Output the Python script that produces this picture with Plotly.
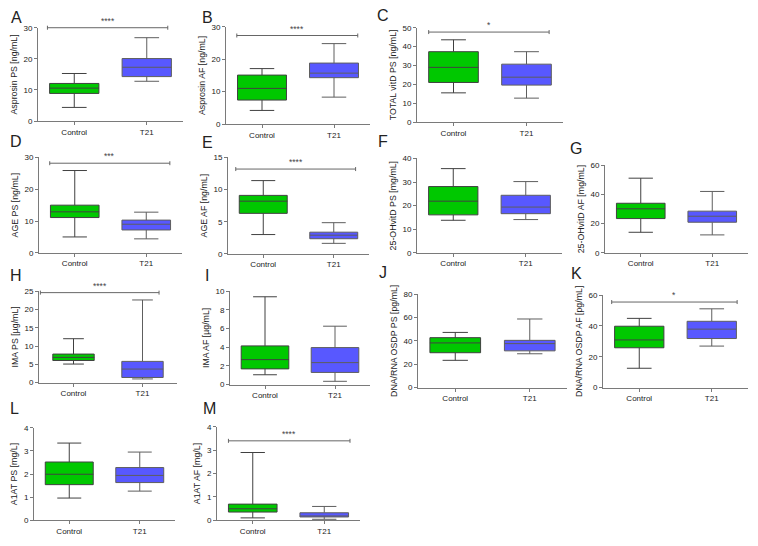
import plotly.graph_objects as go

# ---------------- data ----------------
groups = ["Control", "T21"]
panel_ids = ["A", "B", "C", "D", "E", "F", "G", "H", "I", "J", "K", "L", "M"]
y_titles = ["Asprosin PS [ng/mL]", "Asprosin AF [ng/mL]", "TOTAL vitD PS [ng/mL]",
            "AGE PS [ng/mL]", "AGE AF [ng/mL]", "25-OHvitD PS [mg/mL]", "25-OHvitD AF [mg/mL]",
            "IMA PS [µg/mL]", "IMA AF [µg/mL]", "DNA/RNA OSDP PS [pg/mL]", "DNA/RNA OSDP AF [pg/mL]",
            "A1AT PS [mg/L]", "A1AT AF [mg/L]"]
y_max = [30, 30, 50, 30, 15, 40, 60, 25, 10, 80, 60, 4, 4]
y_dtick = [10, 10, 10, 10, 5, 10, 20, 5, 2, 20, 20, 1, 1]

# Control: whisker low, Q1, median, Q3, whisker high
ctrl_low = [4.4, 4.2, 15.5, 5.0, 3.0, 13.8, 14.1, 5.07, 1.05, 23.3, 12.5, 0.96, 0.10]
ctrl_q1 = [8.9, 7.4, 21.0, 11.1, 6.3, 16.1, 23.5, 6.05, 1.68, 29.8, 25.8, 1.54, 0.35]
ctrl_med = [10.6, 11.0, 29.0, 12.9, 8.2, 21.9, 30.2, 6.9, 2.67, 38.2, 30.9, 1.99, 0.49]
ctrl_q3 = [12.1, 15.1, 37.3, 15.0, 9.1, 28.1, 34.0, 7.8, 4.14, 42.7, 39.8, 2.52, 0.69]
ctrl_high = [15.3, 17.1, 43.6, 25.9, 11.4, 35.7, 51.2, 12.0, 9.4, 47.2, 44.9, 3.34, 2.90]

# T21: whisker low, Q1, median, Q3, whisker high
t21_low = [12.8, 8.3, 12.7, 4.4, 1.63, 14.1, 12.3, 1.0, 0.35, 28.9, 26.9, 1.26, 0.04]
t21_q1 = [14.3, 14.3, 19.6, 7.2, 2.35, 16.6, 21.0, 1.4, 1.30, 31.4, 31.8, 1.63, 0.14]
t21_med = [17.3, 15.7, 23.8, 9.0, 2.90, 19.4, 25.1, 3.7, 2.35, 37.6, 37.9, 1.94, 0.18]
t21_q3 = [20.1, 18.8, 30.7, 10.3, 3.37, 24.4, 28.6, 5.8, 3.96, 40.4, 43.0, 2.28, 0.32]
t21_high = [26.8, 24.8, 37.3, 12.8, 4.85, 30.2, 42.1, 22.6, 6.25, 58.7, 51.1, 2.95, 0.59]

# significance brackets
sig_panels = ["A", "B", "C", "D", "E", "H", "K", "M"]
sig_labels = ["****", "****", "*", "***", "****", "****", "*", "****"]
sig_y = [30, 27.3, 47.7, 28.2, 13.2, 24.6, 55.5, 3.40]
sig_x0 = [-0.37, -0.35, -0.34, -0.35, -0.39, -0.48, -0.38, -0.34]
sig_x1 = [1.29, 1.33, 1.31, 1.33, 1.31, 1.24, 1.35, 1.36]

# ---------------- layout (window pixels) ----------------
OFF = 8                      # default page body margin
W, H = 758 - 2 * OFF, 546 - 2 * OFF
# x0, x1, ytop, ybottom
panel_px = [(38, 183, 24, 119), (226, 370, 23, 122), (417, 563, 24, 120),
            (39, 182, 156, 253), (228, 369, 156, 254), (417, 562, 157, 253), (605, 748, 164, 253),
            (39, 177, 292, 385), (230, 370, 292, 387), (418, 567, 295, 390), (603, 748, 296, 390),
            (34, 175, 431, 525), (217, 360, 430, 525)]
letter_px = [(16, 14), (207, 14), (383, 12), (16, 140), (208, 141), (383, 140), (576, 147),
             (16, 276), (207, 276), (383, 273), (576, 274), (14, 411), (209, 411)]
box_w = [0.68] * 13
box_w[7] = 0.6


def fx(px):
    return (px - OFF) / W


def fy(py):
    return 1 - (py - OFF) / H


FONT = "Liberation Sans, Arial, sans-serif"
AXC = "#7a7a7a"
GREEN = "rgb(0,200,0)"
BLUE = "rgb(88,88,255)"

fig = go.Figure()
layout = dict(width=W, height=H, margin=dict(l=0, r=0, t=0, b=0),
              paper_bgcolor="white", plot_bgcolor="white", showlegend=False,
              font=dict(family=FONT, color="#222"))
shapes, annotations = [], []

for i, pid in enumerate(panel_ids):
    n = "" if i == 0 else str(i + 1)
    xa, ya = "x" + n, "y" + n
    x0, x1, yt, yb = panel_px[i]
    layout["xaxis" + n] = dict(domain=[fx(x0), fx(x1)], anchor=ya, type="category",
                               categoryorder="array", categoryarray=groups, range=[-0.5, 1.5],
                               showline=True, linecolor=AXC, linewidth=1, ticks="outside",
                               ticklen=3, tickcolor=AXC, showgrid=False, zeroline=False,
                               tickfont=dict(size=8, color="#222"), fixedrange=True)
    layout["yaxis" + n] = dict(domain=[fy(yb), fy(yt)], anchor=xa,
                               range=[0, y_max[i]], dtick=y_dtick[i], tick0=0,
                               showline=True, linecolor=AXC, linewidth=1, ticks="outside",
                               ticklen=3, tickcolor=AXC, showgrid=False, zeroline=False,
                               tickfont=dict(size=8, color="#222"),
                               title=dict(text=y_titles[i], font=dict(size=8.8, color="#222"),
                                          standoff=4),
                               fixedrange=True)
    fig.add_trace(go.Box(x=[groups[0]], lowerfence=[ctrl_low[i]], q1=[ctrl_q1[i]],
                         median=[ctrl_med[i]], q3=[ctrl_q3[i]], upperfence=[ctrl_high[i]],
                         fillcolor=GREEN, line=dict(color="#404040", width=1),
                         width=box_w[i], whiskerwidth=0.5, boxpoints=False,
                         xaxis=xa, yaxis=ya, hoverinfo="skip"))
    fig.add_trace(go.Box(x=[groups[1]], lowerfence=[t21_low[i]], q1=[t21_q1[i]],
                         median=[t21_med[i]], q3=[t21_q3[i]], upperfence=[t21_high[i]],
                         fillcolor=BLUE, line=dict(color="#5e5e5e", width=1),
                         width=box_w[i], whiskerwidth=0.5, boxpoints=False,
                         xaxis=xa, yaxis=ya, hoverinfo="skip"))
    lx, ly = letter_px[i]
    annotations.append(dict(text=pid, x=fx(lx), y=fy(ly), xref="paper", yref="paper",
                            xanchor="center", yanchor="middle", showarrow=False,
                            font=dict(size=16, family=FONT, color="#222")))

for pid, lab, yv, bx0, bx1 in zip(sig_panels, sig_labels, sig_y, sig_x0, sig_x1):
    i = panel_ids.index(pid)
    n = "" if i == 0 else str(i + 1)
    xr, yr = "x" + n + " domain", "y" + n + " domain"
    dy = yv / y_max[i]
    dx0, dx1 = (bx0 + 0.5) / 2, (bx1 + 0.5) / 2
    shapes.append(dict(type="line", xref=xr, yref=yr, x0=dx0, x1=dx1, y0=dy, y1=dy,
                       line=dict(color="#666", width=1)))
    for dx in (dx0, dx1):
        shapes.append(dict(type="line", xref=xr, yref=yr, x0=dx, x1=dx,
                           ysizemode="pixel", yanchor=dy, y0=-2, y1=2,
                           line=dict(color="#666", width=1)))
    annotations.append(dict(text=lab, xref=xr, yref=yr, x=(dx0 + dx1) / 2, y=dy,
                            xanchor="center", yanchor="bottom", showarrow=False,
                            font=dict(size=8.5, family=FONT, color="#444")))

layout["shapes"] = shapes
layout["annotations"] = annotations
fig.update_layout(**layout)
fig.write_html("out.html")
